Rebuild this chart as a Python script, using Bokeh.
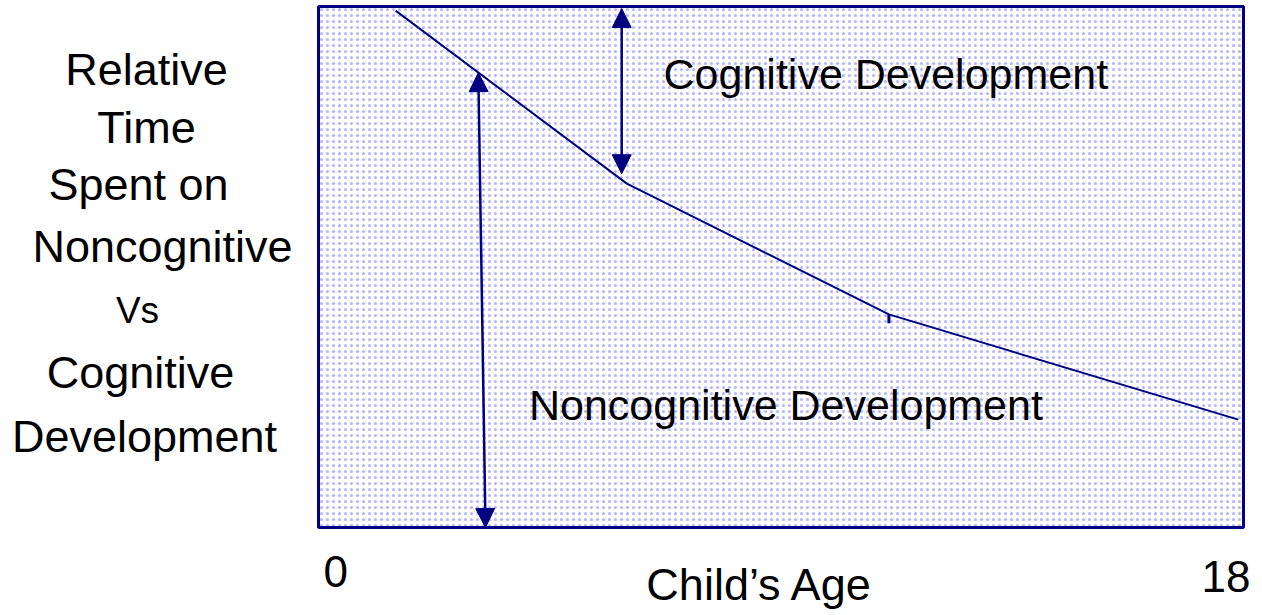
from bokeh.plotting import figure
from bokeh.models import Range1d, Label, Arrow, NormalHead
from bokeh.embed import file_html
from bokeh.resources import INLINE

# ---- data ----
ages = [1.5, 6.0, 11.1, 17.9]
share = [99.2, 66.0, 40.9, 20.7]
x_tick_values = [0, 18]
x_tick_labels = ["0", "18"]
y_span = [0, 100]
cog_arrow_x = [5.9, 5.9]
cog_arrow_y = [99.6, 67.9]
noncog_arrow_x = [3.11, 3.25]
noncog_arrow_y = [87.3, 0.0]
knee_tick_y = [40.9, 39.2]
ylabel_lines = ["Relative", "Time", "Spent on", "Noncognitive", "Vs", "Cognitive", "Development"]

NAVY = "#000080"
FONT = "Liberation Sans"

# the page is the whole canvas; the box (0..18, 0..100) sits inside it
W, H = 1262, 615
BOX_L, BOX_R, BOX_T, BOX_B = 318, 1243, 6, 527
sx = (x_tick_values[1] - x_tick_values[0]) / (BOX_R - BOX_L)
sy = (y_span[1] - y_span[0]) / (BOX_B - BOX_T)

p = figure(width=W, height=H, output_backend="svg", toolbar_location=None,
           x_range=Range1d(-BOX_L * sx, x_tick_values[1] + (W - BOX_R) * sx),
           y_range=Range1d(-(H - BOX_B) * sy, y_span[1] + BOX_T * sy),
           x_axis_type=None, y_axis_type=None,
           min_border=0, min_border_left=0, min_border_right=0,
           min_border_top=0, min_border_bottom=0)
p.grid.visible = False
p.outline_line_color = None
p.background_fill_color = "white"
p.border_fill_color = "white"

# stippled box
p.quad(left=[x_tick_values[0]], right=[x_tick_values[1]], bottom=[y_span[0]], top=[y_span[1]],
       fill_color="white", line_color=NAVY, line_width=3,
       hatch_pattern="dot", hatch_color="#7f7fff", hatch_alpha=0.6,
       hatch_scale=6, hatch_weight=2)

# the curve
p.line(ages, share, line_color=NAVY, line_width=2)
p.segment(x0=[ages[2]], y0=[knee_tick_y[0]], x1=[ages[2]], y1=[knee_tick_y[1]],
          line_color=NAVY, line_width=3)

# arrows
def head():
    return NormalHead(size=19, fill_color=NAVY, line_color=NAVY, line_width=1)

p.add_layout(Arrow(start=head(), end=head(),
                   x_start=cog_arrow_x[0], y_start=cog_arrow_y[0],
                   x_end=cog_arrow_x[1], y_end=cog_arrow_y[1],
                   line_color=NAVY, line_width=2.5))
p.add_layout(Arrow(start=head(), end=head(),
                   x_start=noncog_arrow_x[0], y_start=noncog_arrow_y[0],
                   x_end=noncog_arrow_x[1], y_end=noncog_arrow_y[1],
                   line_color=NAVY, line_width=2.5))

def lab(text, x, y, size, align="left", xo=0):
    px = int(size.replace("px", ""))
    p.add_layout(Label(x=x, y=y, text=text, x_offset=xo, y_offset=round(0.36 * px),
                       text_font=FONT, text_font_size=size, text_align=align,
                       text_baseline="alphabetic", text_color="black"))

# inner texts
lab("Cognitive Development", 6.714, 84.26, "43px")
lab("Noncognitive Development", 4.096, 20.54, "43px")

# left label lines (centers, baselines)
left_x = [-3.347, -3.347, -3.503, -3.036, -3.522, -3.464, -3.386]
left_y = [84.84, 73.70, 62.76, 50.86, 39.16, 26.68, 14.40]
left_sz = ["45px", "45px", "45px", "45px", "37px", "45px", "45px"]
for t, x, y, s in zip(ylabel_lines, left_x, left_y, left_sz):
    lab(t, x, y, s, align="center")

# bottom labels
lab(x_tick_labels[0], x_tick_values[0], -11.52, "44px", align="left", xo=5)
lab(x_tick_labels[1], x_tick_values[1], -12.48, "44px", align="right", xo=7)
lab("Child\u2019s Age", 6.38, -14.01, "45px")

open("out.html", "w").write(file_html(p, INLINE))
